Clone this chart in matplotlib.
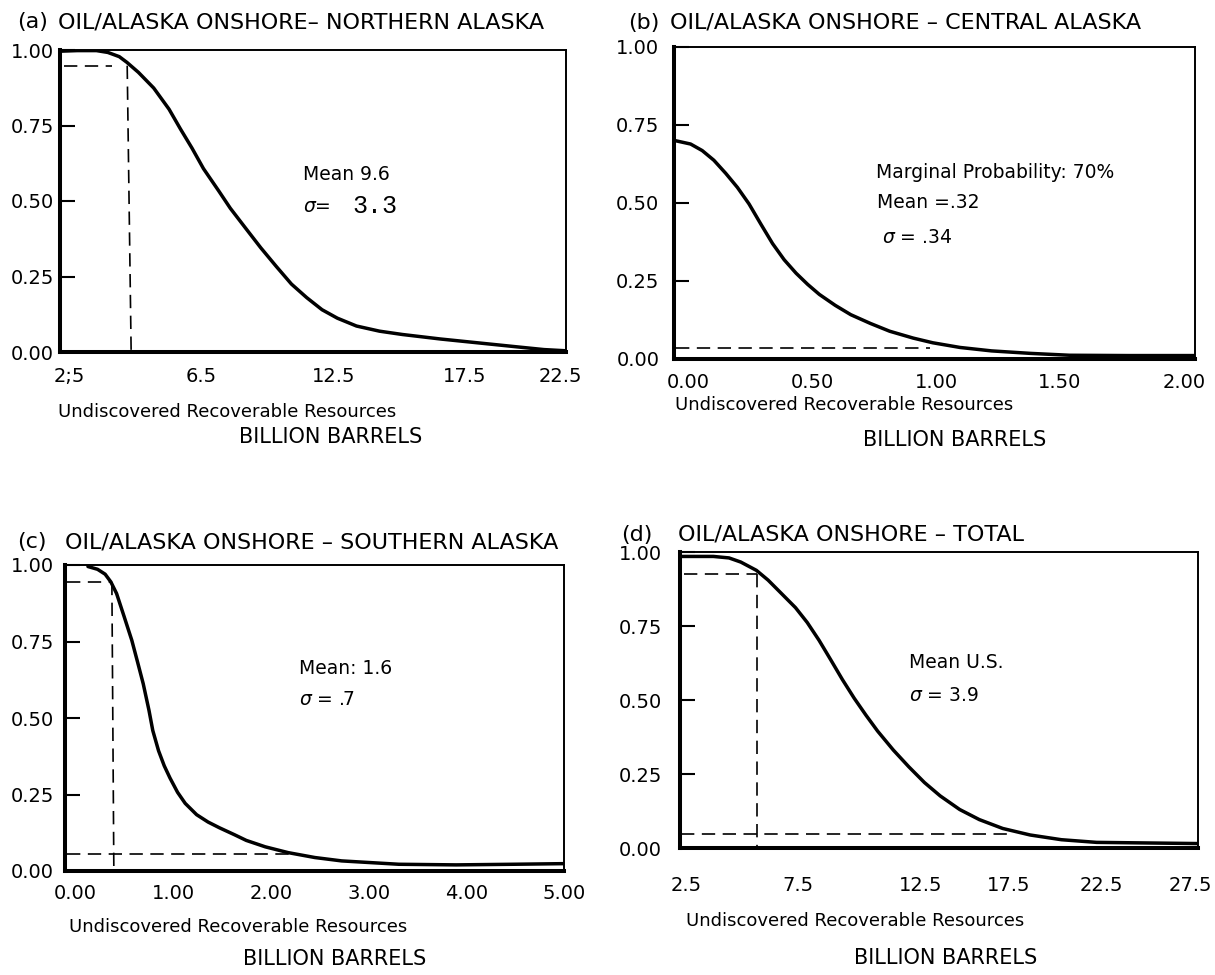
import matplotlib.pyplot as plt

W, H = 1215, 975

# (a) northern alaska -- tick labels sit at uneven values, so x is in tick-slot units
a_tick_labels = ["2;5", "6.5", "12.5", "17.5", "22.5"]
a_tick_pos = [0, 1, 2, 2.99, 3.72]
a_x = [-0.073, 0.058, 0.203, 0.289, 0.376, 0.434, 0.521, 0.637, 0.753, 0.840,
       0.927, 1.014, 1.130, 1.217, 1.333, 1.448, 1.564, 1.680, 1.796, 1.912,
       2.028, 2.173, 2.347, 2.520, 2.810, 3.100, 3.390, 3.593, 3.761]
a_y = [0.996, 0.998, 0.998, 0.992, 0.978, 0.959, 0.926, 0.874, 0.804, 0.738,
       0.675, 0.607, 0.533, 0.476, 0.410, 0.345, 0.284, 0.225, 0.180, 0.140,
       0.112, 0.086, 0.069, 0.058, 0.043, 0.030, 0.017, 0.008, 0.004]
a_p_hi, a_x_hi = 0.948, 0.436

# (b) central alaska
b_tick_labels = ["0.00", "0.50", "1.00", "1.50", "2.00"]
b_tick_pos = [0, 0.5, 1.0, 1.5, 2.0]
b_x = [-0.055, 0.008, 0.055, 0.102, 0.150, 0.197, 0.244, 0.292, 0.339, 0.386,
       0.434, 0.481, 0.528, 0.592, 0.655, 0.734, 0.812, 0.907, 0.986, 1.096,
       1.223, 1.381, 1.538, 1.775, 2.043]
b_y = [0.700, 0.689, 0.668, 0.637, 0.595, 0.550, 0.497, 0.432, 0.370, 0.318,
       0.275, 0.239, 0.207, 0.172, 0.142, 0.114, 0.089, 0.067, 0.052, 0.037,
       0.026, 0.018, 0.012, 0.011, 0.011]
b_p_lo, b_x_lo = 0.035, 0.975

# (c) southern alaska
c_tick_labels = ["0.00", "1.00", "2.00", "3.00", "4.00", "5.00"]
c_tick_pos = [0, 1, 2, 3, 4, 5]
c_x = [0.125, 0.223, 0.301, 0.359, 0.418, 0.496, 0.574, 0.633, 0.691, 0.750,
       0.789, 0.848, 0.906, 0.965, 1.043, 1.121, 1.238, 1.355, 1.473, 1.629,
       1.746, 1.941, 2.176, 2.449, 2.723, 3.309, 3.895, 4.480, 4.988]
c_y = [0.995, 0.986, 0.970, 0.945, 0.907, 0.831, 0.754, 0.683, 0.612, 0.525,
       0.459, 0.393, 0.344, 0.304, 0.257, 0.221, 0.184, 0.160, 0.141, 0.118,
       0.100, 0.079, 0.060, 0.044, 0.033, 0.022, 0.020, 0.022, 0.024]
c_p_hi, c_x_hi = 0.945, 0.37
c_p_lo, c_x_lo = 0.055, 2.18

# (d) total
d_tick_labels = ["2.5", "7.5", "12.5", "17.5", "22.5", "27.5"]
d_tick_pos = [0, 1.12, 2.35, 3.23, 4.15, 5.04]
d_x = [-0.058, 0.274, 0.430, 0.548, 0.704, 0.821, 0.939, 1.095, 1.212, 1.330,
       1.447, 1.564, 1.682, 1.799, 1.916, 2.073, 2.229, 2.385, 2.542, 2.737,
       2.933, 3.167, 3.441, 3.754, 4.106, 4.614, 5.122]
d_y = [0.985, 0.985, 0.980, 0.966, 0.938, 0.905, 0.865, 0.812, 0.762, 0.702,
       0.636, 0.569, 0.506, 0.449, 0.395, 0.331, 0.274, 0.221, 0.176, 0.130,
       0.096, 0.066, 0.044, 0.028, 0.019, 0.017, 0.015]
d_p_hi, d_x_hi = 0.927, 0.712
d_p_lo, d_x_lo = 0.048, 3.25

y_ticks = [0, 0.25, 0.5, 0.75, 1.0]
y_labels = ["0.00", "0.25", "0.50", "0.75", "1.00"]

plt.rcParams["font.family"] = "DejaVu Sans"
plt.rcParams["mathtext.fontset"] = "dejavusans"

TITLE_FS = 16
LAB_FS = 13
BB_FS = 15
NOTE_FS = 13.5
TICK_FS = 14

fig = plt.figure(figsize=(W / 100, H / 100), dpi=100)


def box(x0, y0, x1, y1):
    # pixel box -> figure fraction
    return [x0 / W, 1 - y1 / H, (x1 - x0) / W, (y1 - y0) / H]


def ftext(x, y, s, **kw):
    kw.setdefault("fontsize", TITLE_FS)
    kw.setdefault("va", "center")
    fig.text(x / W, 1 - y / H, s, **kw)


def setup(ax, xlim, tpos, tlab, ypad, xpad):
    ax.set_xlim(*xlim)
    ax.set_ylim(0, 1)
    ax.set_yticks(y_ticks)
    ax.set_yticklabels(y_labels)
    ax.set_xticks(tpos)
    ax.set_xticklabels(tlab)
    ax.tick_params(axis="y", direction="in", length=11, width=1.5,
                   labelsize=TICK_FS, pad=ypad)
    ax.tick_params(axis="x", length=0, labelsize=TICK_FS, pad=xpad)
    for s in ["left", "bottom"]:
        ax.spines[s].set_linewidth(2.9)
    for s in ["top", "right"]:
        ax.spines[s].set_linewidth(1.4)


dash = dict(color="black", lw=1.2, dashes=(8, 4.5))
curve = dict(color="black", lw=2.5, solid_joinstyle="round", solid_capstyle="round")

# ---- (a)
ax1 = fig.add_axes(box(60, 50, 566, 352))
setup(ax1, (-0.073, 3.76), a_tick_pos, a_tick_labels, 4.5, 11)
ax1.plot(a_x, a_y, **curve)
ax1.plot([-0.044, 0.318], [a_p_hi, a_p_hi], **dash)
ax1.plot([a_x_hi, a_x_hi + 0.03], [a_p_hi, 0], **dash)
ax1.text(1.768, 0.589, "Mean 9.6", fontsize=NOTE_FS, va="center")
ax1.text(1.768, 0.483, r"$\sigma$=", fontsize=NOTE_FS, va="center")
ax1.text(2.14, 0.483, "3.3", fontsize=18, va="center", family="Liberation Mono")

ftext(17, 22, "(a)")
ftext(58, 22, "OIL/ALASKA ONSHORE– NORTHERN ALASKA")
ftext(58, 412, "Undiscovered Recoverable Resources", fontsize=LAB_FS)
ftext(331, 437, "BILLION BARRELS", fontsize=BB_FS, ha="center")

# ---- (b)
ax2 = fig.add_axes(box(674, 47, 1195, 359))
setup(ax2, (-0.059, 2.045), b_tick_pos, b_tick_labels, 10.5, 10)
ax2.plot(b_x, b_y, **curve)
ax2.plot([-0.05, b_x_lo], [b_p_lo, b_p_lo], **dash)
ax2.text(0.757, 0.599, "Marginal Probability: 70%", fontsize=NOTE_FS, va="center")
ax2.text(0.760, 0.500, "Mean =.32", fontsize=NOTE_FS, va="center")
ax2.text(0.780, 0.391, r"$\sigma$ = .34", fontsize=NOTE_FS, va="center")

ftext(628, 23, "(b)")
ftext(670, 23, "OIL/ALASKA ONSHORE – CENTRAL ALASKA")
ftext(675, 405, "Undiscovered Recoverable Resources", fontsize=LAB_FS)
ftext(955, 440, "BILLION BARRELS", fontsize=BB_FS, ha="center")

# ---- (c)
ax3 = fig.add_axes(box(65, 565, 564, 871))
setup(ax3, (-0.11, 4.99), c_tick_pos, c_tick_labels, 8, 9.5)
ax3.plot(c_x, c_y, **curve)
ax3.plot([-0.09, c_x_hi - 0.01], [c_p_hi, c_p_hi], **dash)
ax3.plot([c_x_hi, c_x_hi + 0.02], [c_p_hi, 0.01], **dash)
ax3.plot([-0.09, c_x_lo], [c_p_lo, c_p_lo], **dash)
ax3.text(2.29, 0.662, "Mean: 1.6", fontsize=NOTE_FS, va="center")
ax3.text(2.29, 0.559, r"$\sigma$ = .7", fontsize=NOTE_FS, va="center")

ftext(17, 542, "(c)")
ftext(65, 542, "OIL/ALASKA ONSHORE – SOUTHERN ALASKA")
ftext(69, 927, "Undiscovered Recoverable Resources", fontsize=LAB_FS)
ftext(335, 959, "BILLION BARRELS", fontsize=BB_FS, ha="center")

# ---- (d)
ax4 = fig.add_axes(box(680, 552, 1198, 848))
setup(ax4, (-0.06, 5.12), d_tick_pos, d_tick_labels, 13, 20)
ax4.plot(d_x, d_y, **curve)
ax4.plot([-0.02, d_x_hi], [d_p_hi, d_p_hi], **dash)
ax4.plot([d_x_hi, d_x_hi], [d_p_hi, 0], **dash)
ax4.plot([-0.05, d_x_lo], [d_p_lo, d_p_lo], **dash)
ax4.text(2.23, 0.626, "Mean U.S.", fontsize=NOTE_FS, va="center")
ax4.text(2.23, 0.516, r"$\sigma$ = 3.9", fontsize=NOTE_FS, va="center")

ftext(621, 535, "(d)")
ftext(678, 535, "OIL/ALASKA ONSHORE – TOTAL")
ftext(686, 921, "Undiscovered Recoverable Resources", fontsize=LAB_FS)
ftext(946, 958, "BILLION BARRELS", fontsize=BB_FS, ha="center")

fig.savefig("out.png", dpi=100)
